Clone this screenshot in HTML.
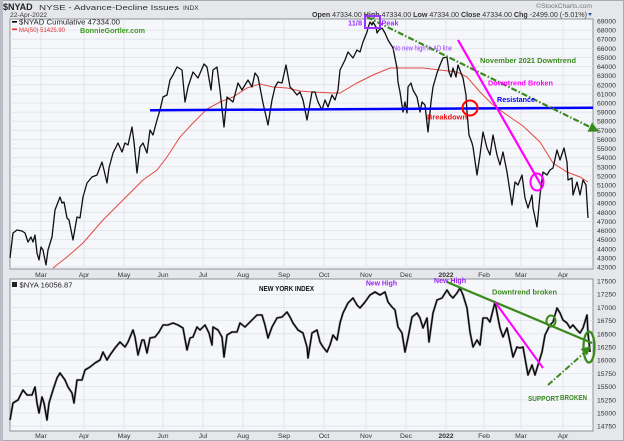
<!DOCTYPE html>
<html><head><meta charset="utf-8"><style>
html,body{margin:0;padding:0;background:#e6e7eb;}
svg{display:block;font-family:"Liberation Sans",sans-serif;}
</style></head><body>
<svg width="624" height="441" viewBox="0 0 624 441" xmlns="http://www.w3.org/2000/svg">
<rect x="0" y="0" width="624" height="441" fill="#e6e7eb"/>
<rect x="0.5" y="0.5" width="623" height="440" fill="none" stroke="#a6aab2"/>
<rect x="0" y="0" width="3" height="441" fill="#b9bcc4"/>
<!-- header -->
<text x="3" y="10" font-size="9" font-weight="bold" fill="#222">$NYAD</text>
<text x="39" y="10" font-size="7.5" fill="#333" textLength="140" lengthAdjust="spacingAndGlyphs">NYSE - Advance-Decline Issues</text>
<text x="183" y="10" font-size="6.5" fill="#333">INDX</text>
<text x="10" y="17" font-size="6.8" fill="#333" textLength="37" lengthAdjust="spacingAndGlyphs">22-Apr-2022</text>
<text x="536" y="8" font-size="6.5" fill="#777" textLength="56" lengthAdjust="spacingAndGlyphs">©StockCharts.com</text>
<text x="312" y="17" font-size="7.4" fill="#333" textLength="275" lengthAdjust="spacingAndGlyphs"><tspan font-weight="bold">Open</tspan> 47334.00 <tspan font-weight="bold">High</tspan> 47334.00 <tspan font-weight="bold">Low</tspan> 47334.00 <tspan font-weight="bold">Close</tspan> 47334.00 <tspan font-weight="bold">Chg</tspan> -2499.00 (-5.01%)</text>
<polygon points="588,13 592,13 590,16" fill="#3355aa"/>

<!-- top panel -->
<rect x="10" y="19" width="583" height="250" fill="#f6f7fb" stroke="#8e929a" stroke-width="1"/>
<path stroke="#dfe2e8" stroke-width="0.8" fill="none" d="M10 30.1H593M10 39.2H593M10 48.3H593M10 57.4H593M10 66.6H593M10 75.7H593M10 84.8H593M10 93.9H593M10 103H593M10 112.1H593M10 121.2H593M10 130.3H593M10 139.4H593M10 148.5H593M10 157.7H593M10 166.8H593M10 175.9H593M10 185H593M10 194.1H593M10 203.2H593M10 212.3H593M10 221.4H593M10 230.5H593M10 239.6H593M10 248.8H593M10 257.9H593M10 267H593
M41 19V269M84 19V269M124 19V269M163 19V269M203 19V269M243 19V269M284 19V269M324 19V269M366 19V269M406 19V269M446 19V269M484 19V269M521 19V269M563 19V269"/>
<!-- right axis top -->
<g font-size="6.8" fill="#333">
<text x="597" y="23.5">69000</text><text x="597" y="32.6">68000</text><text x="597" y="41.7">67000</text><text x="597" y="50.8">66000</text><text x="597" y="59.9">65000</text><text x="597" y="69.1">64000</text><text x="597" y="78.2">63000</text><text x="597" y="87.3">62000</text><text x="597" y="96.4">61000</text><text x="597" y="105.5">60000</text><text x="597" y="114.6">59000</text><text x="597" y="123.7">58000</text><text x="597" y="132.8">57000</text><text x="597" y="141.9">56000</text><text x="597" y="151">55000</text><text x="597" y="160.2">54000</text><text x="597" y="169.3">53000</text><text x="597" y="178.4">52000</text><text x="597" y="187.5">51000</text><text x="597" y="196.6">50000</text><text x="597" y="205.7">49000</text><text x="597" y="214.8">48000</text><text x="597" y="223.9">47000</text><text x="597" y="233">46000</text><text x="597" y="242.1">45000</text><text x="597" y="251.3">44000</text><text x="597" y="260.4">43000</text><text x="597" y="269.5">42000</text>
</g>
<!-- legend top -->
<rect x="12" y="21" width="5" height="1.6" fill="#000"/>
<text x="19" y="24.5" font-size="7" fill="#222" textLength="101" lengthAdjust="spacingAndGlyphs">$NYAD Cumulative 47334.00</text>
<rect x="12" y="28.5" width="5" height="1.6" fill="#e03030"/>
<text x="19" y="32" font-size="6.8" fill="#e03030" textLength="46" lengthAdjust="spacingAndGlyphs">MA(50) 51425.90</text>
<text x="80" y="33" font-size="7.5" font-weight="bold" fill="#3a9a1e" textLength="65" lengthAdjust="spacingAndGlyphs">BonnieGortler.com</text>

<!-- MA line -->
<polyline fill="none" stroke="#e04a40" stroke-width="1" points="53,268 67,257 83,243 103,220 123,200 143,180 157,170 167,157 180,137 193,123 207,109 220,102 233,97 247,88 260,84 273,87 287,88 300,91 313,92 333,93 340,93 357,83 373,75 390,68 407,68 423,68 440,70 457,72 467,77 480,92 493,105 507,115 523,126 540,142 553,163 567,172 580,177 588,182"/>
<!-- NYAD line -->
<polyline fill="none" stroke="#111" stroke-width="1.3" stroke-linejoin="round" points="10,258 13,233 17,230 22,231 25,233 28,242 31,237 33,242 35,235 37,253 39,260 41,247 43,250 46,265 48,250 52,237 55,210 60,197 62,203 64,202 67,218 69,220 73,240 77,217 80,218 83,197 87,183 92,177 97,175 102,162 104,170 107,183 109,168 113,153 118,143 122,152 125,143 128,145 132,127 134,142 137,173 140,147 143,143 147,153 150,130 153,135 157,120 160,110 163,97 167,95 170,80 173,75 177,67 182,70 185,102 188,87 193,72 198,78 204,64 207,67 211,90 213,70 217,67 220,90 224,127 227,97 233,102 238,83 242,90 245,85 248,80 252,87 255,73 258,77 263,103 268,125 272,100 275,87 278,82 282,83 286,65 290,87 293,90 297,95 300,92 303,100 307,120 312,92 315,92 318,102 322,110 325,100 328,107 332,95 335,100 338,90 340,70 345,60 348,52 353,58 357,50 360,52 363,42 367,32 368,28 370,22 372,25 373,22 376,27 377,33 379,30 382,28 385,33 388,40 393,48 397,68 398,82 400,92 403,112 405,102 407,113 408,87 411,83 413,90 417,97 420,112 422,102 425,105 428,132 431,102 433,87 437,73 440,65 443,58 447,57 449,72 451,77 453,68 456,77 458,65 461,73 463,78 466,95 467,112 469,135 472,143 473,147 477,175 480,155 483,132 487,148 490,155 493,135 497,155 500,165 503,152 507,172 512,205 515,182 518,185 522,175 525,198 528,208 532,195 533,208 537,227 540,195 543,172 547,175 550,170 553,168 557,150 560,160 564,148 567,162 568,180 572,178 573,195 577,182 580,195 583,180 586,185 588,218"/>

<!-- top annotations -->
<line x1="150" y1="110.3" x2="593" y2="107.7" stroke="#0000ff" stroke-width="2.5"/>
<line x1="367" y1="17" x2="590" y2="127" stroke="#3b8a1e" stroke-width="2.2" stroke-dasharray="6 2 1.5 2"/>
<polygon points="599,131.5 587.5,131.8 592,122.5" fill="#3b8a1e"/>
<line x1="458" y1="40" x2="541" y2="185" stroke="#ff00ff" stroke-width="2.2"/>
<ellipse cx="537" cy="182" rx="6.5" ry="8.5" fill="none" stroke="#ff00ff" stroke-width="2"/>
<circle cx="470" cy="108" r="7.5" fill="none" stroke="#ff0000" stroke-width="2"/>
<rect x="365" y="16" width="15" height="12" fill="none" stroke="#9933ff" stroke-width="2"/>
<text x="348" y="25.5" font-size="7.5" font-weight="bold" fill="#9933ff">11/8</text>
<text x="381.5" y="25.5" font-size="7.5" font-weight="bold" fill="#9933ff" textLength="17" lengthAdjust="spacingAndGlyphs">Peak</text>
<text x="393" y="50.5" font-size="7" fill="#9933ff" textLength="59" lengthAdjust="spacingAndGlyphs">No new high in AD line</text>
<text x="480" y="63" font-size="7.5" font-weight="bold" fill="#3a8a1e" textLength="96" lengthAdjust="spacingAndGlyphs">November 2021  Downtrend</text>
<text x="488" y="85.5" font-size="7.5" font-weight="bold" fill="#ff00ff" textLength="65" lengthAdjust="spacingAndGlyphs">Downtrend Broken</text>
<text x="497" y="102" font-size="7.5" font-weight="bold" fill="#0000ff" textLength="38" lengthAdjust="spacingAndGlyphs">Resistance</text>
<text x="427" y="119.5" font-size="7.5" font-weight="bold" fill="#ee1111" textLength="40" lengthAdjust="spacingAndGlyphs">Breakdown</text>

<!-- month labels middle -->
<g font-size="6.8" fill="#333" text-anchor="middle">
<text x="41" y="277">Mar</text><text x="84" y="277">Apr</text><text x="124" y="277">May</text><text x="163" y="277">Jun</text><text x="203" y="277">Jul</text><text x="243" y="277">Aug</text><text x="284" y="277">Sep</text><text x="324" y="277">Oct</text><text x="366" y="277">Nov</text><text x="406" y="277">Dec</text><text x="446" y="277" font-weight="bold">2022</text><text x="484" y="277">Feb</text><text x="521" y="277">Mar</text><text x="563" y="277">Apr</text>
</g>

<!-- bottom panel -->
<rect x="10" y="279" width="583" height="152" fill="#f6f7fb" stroke="#8e929a" stroke-width="1"/>
<path stroke="#dfe2e8" stroke-width="0.8" fill="none" d="M10 294.2H593M10 307.4H593M10 320.6H593M10 333.8H593M10 347H593M10 360.2H593M10 373.4H593M10 386.6H593M10 399.8H593M10 413H593M10 426.2H593
M41 279V431M84 279V431M124 279V431M163 279V431M203 279V431M243 279V431M284 279V431M324 279V431M366 279V431M406 279V431M446 279V431M484 279V431M521 279V431M563 279V431"/>
<g font-size="6.8" fill="#333">
<text x="597" y="283.5">17500</text><text x="597" y="296.7">17250</text><text x="597" y="309.9">17000</text><text x="597" y="323.1">16750</text><text x="597" y="336.3">16500</text><text x="597" y="349.5">16250</text><text x="597" y="362.7">16000</text><text x="597" y="375.9">15750</text><text x="597" y="389.1">15500</text><text x="597" y="402.3">15250</text><text x="597" y="415.5">15000</text><text x="597" y="428.7">14750</text>
</g>
<rect x="12" y="282" width="5" height="5" fill="#222"/>
<text x="19.5" y="287.5" font-size="7" fill="#222" textLength="53" lengthAdjust="spacingAndGlyphs">$NYA 16056.87</text>
<text x="259" y="291" font-size="7" font-weight="bold" fill="#111" textLength="55" lengthAdjust="spacingAndGlyphs">NEW YORK INDEX</text>

<!-- NYA bars -->
<g fill="none" stroke-linejoin="round">
<polyline stroke="#777" stroke-width="2.2" points="10,420 13,403 18,400 23,390 27,395 32,395 35,387 37,403 39,413 42,397 44,403 47,420 49,403 53,390 57,378 60,373 65,380 68,387 72,393 74,403 77,380 82,380 85,370 90,367 95,363 100,360 103,352 107,360 110,355 115,348 120,342 125,347 128,342 133,330 135,337 138,355 142,340 144,340 147,353 150,338 155,337 159,332 163,325 168,325 173,323 178,325 183,328 187,350 190,338 193,337 197,327 200,330 205,325 209,333 212,345 213,327 218,330 222,337 224,357 227,335 232,332 237,332 240,323 245,327 250,322 257,315 262,315 265,325 268,338 272,327 277,318 282,317 287,312 290,317 293,323 298,330 303,333 307,347 308,358 312,333 317,330 320,342 323,347 327,352 330,345 333,335 337,340 340,323 343,313 348,303 353,298 357,305 360,308 365,302 370,295 375,292 380,295 385,292 388,302 392,307 395,310 398,327 402,333 405,352 408,338 412,317 417,313 420,318 423,328 427,318 429,342 433,313 437,300 442,298 447,290 450,295 453,298 457,293 460,288 463,295 467,308 470,332 473,347 477,340 480,345 483,318 487,318 490,322 495,302 498,318 500,328 503,337 507,328 510,342 513,357 517,347 520,348 523,347 528,375 532,365 535,375 538,365 542,352 545,335 550,325 553,322 557,308 560,313 563,320 567,323 570,328 573,325 577,330 580,333 583,328 587,315 588,333 590,352"/>
<polyline stroke="#000" stroke-width="1.1" points="10,420 13,403 18,400 23,390 27,395 32,395 35,387 37,403 39,413 42,397 44,403 47,420 49,403 53,390 57,378 60,373 65,380 68,387 72,393 74,403 77,380 82,380 85,370 90,367 95,363 100,360 103,352 107,360 110,355 115,348 120,342 125,347 128,342 133,330 135,337 138,355 142,340 144,340 147,353 150,338 155,337 159,332 163,325 168,325 173,323 178,325 183,328 187,350 190,338 193,337 197,327 200,330 205,325 209,333 212,345 213,327 218,330 222,337 224,357 227,335 232,332 237,332 240,323 245,327 250,322 257,315 262,315 265,325 268,338 272,327 277,318 282,317 287,312 290,317 293,323 298,330 303,333 307,347 308,358 312,333 317,330 320,342 323,347 327,352 330,345 333,335 337,340 340,323 343,313 348,303 353,298 357,305 360,308 365,302 370,295 375,292 380,295 385,292 388,302 392,307 395,310 398,327 402,333 405,352 408,338 412,317 417,313 420,318 423,328 427,318 429,342 433,313 437,300 442,298 447,290 450,295 453,298 457,293 460,288 463,295 467,308 470,332 473,347 477,340 480,345 483,318 487,318 490,322 495,302 498,318 500,328 503,337 507,328 510,342 513,357 517,347 520,348 523,347 528,375 532,365 535,375 538,365 542,352 545,335 550,325 553,322 557,308 560,313 563,320 567,323 570,328 573,325 577,330 580,333 583,328 587,315 588,333 590,352"/>
</g>

<!-- bottom annotations -->
<line x1="447" y1="282" x2="592" y2="343" stroke="#3b8a1e" stroke-width="2.3"/>
<line x1="495" y1="302" x2="543" y2="368" stroke="#ff00ff" stroke-width="2"/>
<ellipse cx="551" cy="321" rx="4.5" ry="5.5" fill="none" stroke="#3b8a1e" stroke-width="2"/>
<ellipse cx="589" cy="347" rx="5.5" ry="15.5" fill="none" stroke="#3b8a1e" stroke-width="2.3"/>
<line x1="548" y1="385" x2="584" y2="353" stroke="#3b8a1e" stroke-width="2" stroke-dasharray="6 2 1.5 2"/>
<polygon points="591,346 587,355.5 580.5,349" fill="#3b8a1e"/>
<text x="366" y="285.5" font-size="7.3" font-weight="bold" fill="#9a22f0" textLength="31" lengthAdjust="spacingAndGlyphs">New High</text>
<text x="434" y="283" font-size="7.3" font-weight="bold" fill="#9a22f0" textLength="32" lengthAdjust="spacingAndGlyphs">New High</text>
<text x="492" y="294.5" font-size="7.5" font-weight="bold" fill="#3a8a1e" textLength="65" lengthAdjust="spacingAndGlyphs">Downtrend broken</text>
<text x="528" y="401" font-size="7.3" font-weight="bold" fill="#3a8a1e" textLength="31" lengthAdjust="spacingAndGlyphs">SUPPORT</text>
<text x="560" y="400" font-size="7.3" font-weight="bold" fill="#3a8a1e" textLength="27" lengthAdjust="spacingAndGlyphs">BROKEN</text>

<!-- bottom month labels -->
<g font-size="6.8" fill="#333" text-anchor="middle">
<text x="41" y="438">Mar</text><text x="84" y="438">Apr</text><text x="124" y="438">May</text><text x="163" y="438">Jun</text><text x="203" y="438">Jul</text><text x="243" y="438">Aug</text><text x="284" y="438">Sep</text><text x="324" y="438">Oct</text><text x="366" y="438">Nov</text><text x="406" y="438">Dec</text><text x="446" y="438" font-weight="bold">2022</text><text x="484" y="438">Feb</text><text x="521" y="438">Mar</text><text x="563" y="438">Apr</text>
</g>
</svg>
</body></html>
